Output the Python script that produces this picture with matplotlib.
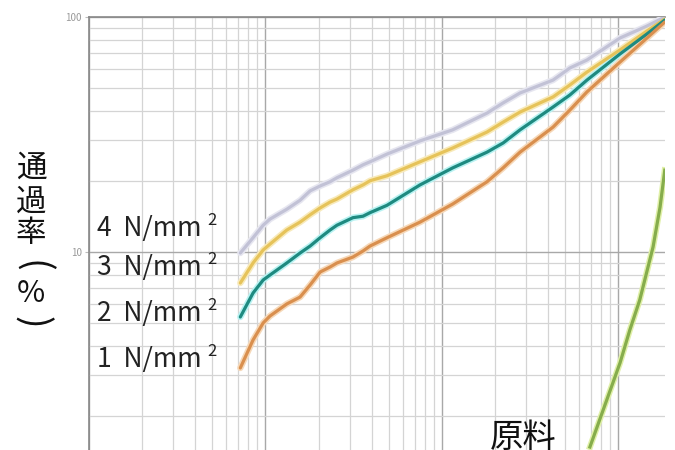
import matplotlib
matplotlib.use("Agg")
import matplotlib.pyplot as plt
from matplotlib.ticker import LogLocator, NullFormatter, FixedLocator, FixedFormatter

# particle size (mm, log axis) shared by pressed samples
size_mm = [0.072, 0.085, 0.097, 0.106, 0.132, 0.157, 0.179, 0.204, 0.232, 0.254,
           0.313, 0.357, 0.391, 0.488, 0.751, 1.15, 1.80, 2.22, 2.77, 4.26,
           5.31, 6.63, 10.2, 14.5, 18.3]

pass_4N = [9.9, 11.5, 13.0, 13.8, 15.2, 16.6, 18.2, 19.1, 19.9, 20.7,
           22.3, 23.5, 24.2, 26.1, 29.7, 33.1, 39.0, 43.1, 47.5, 53.9,
           60.7, 65.6, 81.4, 91.5, 100.0]
pass_3N = [7.38, 8.98, 10.2, 10.8, 12.4, 13.4, 14.4, 15.4, 16.3, 16.8,
           18.4, 19.3, 20.1, 21.1, 24.2, 27.7, 32.4, 35.7, 39.4, 45.7,
           51.4, 58.3, 72.4, 87.2, 98.1]
pass_2N = [5.29, 6.69, 7.60, 7.98, 8.98, 9.90, 10.6, 11.5, 12.4, 13.0,
           14.0, 14.2, 14.7, 15.8, 19.3, 22.8, 26.6, 29.1, 33.1, 41.4,
           46.6, 53.9, 69.6, 84.7, 97.1]
pass_1N = [3.21, 4.22, 4.99, 5.34, 6.01, 6.43, 7.24, 8.22, 8.63, 8.98,
           9.52, 10.1, 10.6, 11.5, 13.4, 16.0, 19.9, 22.8, 26.6, 34.0,
           40.2, 48.0, 64.3, 81.4, 95.2]

# raw material
raw_size_mm = [6.89, 10.2, 11.6, 13.2, 15.7, 17.2, 18.3]
raw_pass = [1.48, 3.37, 4.66, 6.25, 10.5, 15.5, 22.3]

labels = ["4  N/mm", "3  N/mm", "2  N/mm", "1  N/mm"]
raw_label = "原料"
ylabel_chars = ["通", "過", "率", "(", "%", ")"]
ylabel_rot = [0, 0, 0, -90, 0, -90]
ylabel_size = [22, 22, 22, 27, 22, 27]
ytick_vals = [10, 100]
ytick_text = ["10", "100"]

plt.rcParams['font.family'] = ['Noto Sans CJK JP', 'DejaVu Sans']

fig = plt.figure(figsize=(6.75, 4.5), dpi=100)
ax = fig.add_axes([89/675, 0.0, (665-89)/675, (450-17)/450])
ax.set_xscale('log')
ax.set_yscale('log')
ax.set_xlim(0.01, 18.35)
ax.set_ylim(1.437, 100)

ax.xaxis.set_major_locator(LogLocator(base=10, numticks=10))
ax.xaxis.set_minor_locator(LogLocator(base=10, subs=range(2, 10), numticks=20))
ax.yaxis.set_major_locator(FixedLocator(ytick_vals))
ax.yaxis.set_major_formatter(FixedFormatter(ytick_text))
ax.yaxis.set_minor_locator(LogLocator(base=10, subs=range(2, 10), numticks=20))
ax.xaxis.set_major_formatter(NullFormatter())
ax.xaxis.set_minor_formatter(NullFormatter())
ax.yaxis.set_minor_formatter(NullFormatter())

ax.grid(which='major', color='#a8a8a8', lw=1.0)
ax.grid(which='minor', color='#d4d4d4', lw=0.9)
ax.set_axisbelow(True)
ax.tick_params(axis='x', which='both', length=0)
ax.tick_params(axis='y', which='major', length=3, color='#bbbbbb', labelsize=7,
               labelcolor='#999999', pad=2)
ax.tick_params(axis='y', which='minor', length=0)
for s in ['right', 'bottom']:
    ax.spines[s].set_visible(False)
ax.spines['left'].set_color('#888888')
ax.spines['left'].set_linewidth(1.2)
ax.spines['top'].set_color('#888888')
ax.spines['top'].set_linewidth(1.2)

series = [
    (pass_4N, '#c2c2d6', '#e6e6f0'),
    (pass_3N, '#e6c35a', '#f8eaba'),
    (pass_2N, '#1e8a80', '#b8f2f2'),
    (pass_1N, '#d98f4e', '#f6d8b8'),
]
for ys, c, halo in series:
    ax.plot(size_mm, ys, color=halo, lw=4.6, solid_capstyle='round', zorder=3)
    ax.plot(size_mm, ys, color=c, lw=2.3, solid_capstyle='round', zorder=4)
ax.plot(raw_size_mm, raw_pass, color='#e0f0a8', lw=4.4, zorder=3)
ax.plot(raw_size_mm, raw_pass, color='#86ad4c', lw=2.3, zorder=4)

# pressure labels
label_y = [229, 268, 313, 360]
for t, py in zip(labels, label_y):
    fig.text(97/675, 1 - py/450, t, fontsize=19, va='center', ha='left', color='#222222')
    fig.text(207/675, 1 - (py - 8)/450, "2", fontsize=12, va='center', ha='left', color='#222222')

# raw material label
fig.text(490/675, 1 - 420/450, raw_label, fontsize=24, va='top', ha='left', color='#111111')

# vertical y-label
char_y = [168, 202, 234, 266, 294, 322]
for ch, py, rot, fs in zip(ylabel_chars, char_y, ylabel_rot, ylabel_size):
    fig.text(31/675, 1 - py/450, ch, fontsize=fs, va='center', ha='center',
             rotation=rot, color='#111111')

fig.savefig('out.png', dpi=100)
